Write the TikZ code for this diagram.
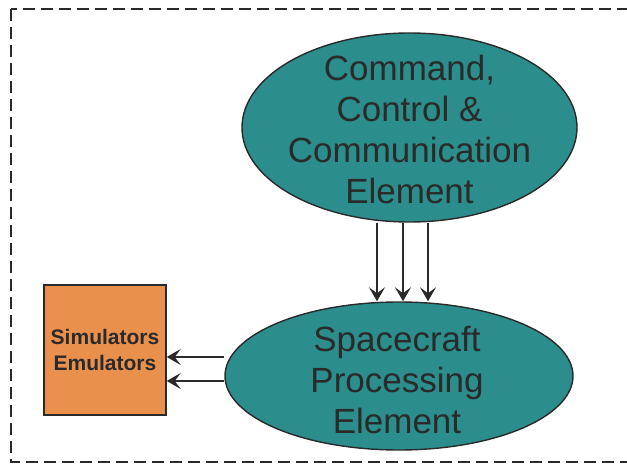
\documentclass[tikz,border=0pt]{standalone}
\usepackage{fontspec}
\setmainfont{Liberation Sans}
\usetikzlibrary{arrows.meta}
\usetikzlibrary{shapes.geometric}
\usetikzlibrary{backgrounds}
\definecolor{teal}{HTML}{2B8E8C}
\definecolor{simorange}{HTML}{E8904C}
\definecolor{inkgray}{HTML}{2A2A2A}

\begin{document}
\begin{tikzpicture}[x=1pt,y=-1pt,
        elem/.style={ellipse, draw=inkgray, line width=1.4pt, fill=teal, inner sep=0pt},
        elemtext/.style={align=center, text=inkgray, font=\fontsize{35}{41}\selectfont},
        link/.style={-{Stealth[length=14pt,width=16pt,inset=6pt]}, line width=1.6pt, inkgray}]
        \useasboundingbox (0,0) rectangle (627,465);
        \draw[dash pattern=on 12pt off 6pt, line width=2.4pt, inkgray] (11,9) rectangle (650,462);
        \node[elem, minimum width=335pt, minimum height=189pt, label={[elemtext, yshift=-2pt]center:Command,\\Control \&\\Communication\\Element}] (cce) at (409.5,127.5) {};
        \node[elem, minimum width=348pt, minimum height=148pt, label={[elemtext, yshift=-4pt, xshift=-2pt]center:Spacecraft\\Processing\\Element}] (spe) at (399,376) {};
        \node[draw=inkgray, line width=1.4pt, fill=simorange, minimum width=122pt, minimum height=130pt, inner sep=0pt, align=center, text=inkgray, font=\bfseries\fontsize{21}{26}\selectfont] (sim) at (105,350) {Simulators\\Emulators};
        \begin{scope}[on background layer]
            \foreach \dx in {-22,4,29}
                \draw[link] ([xshift=\dx pt]spe.north |- cce.south) -- ([xshift=\dx pt]spe.north);
            \foreach \dy in {19,-5}
                \draw[link] ([yshift=\dy pt]spe.west) -- ([yshift=\dy pt]spe.west -| sim.east);
        \end{scope}
    \end{tikzpicture}
\end{document}
